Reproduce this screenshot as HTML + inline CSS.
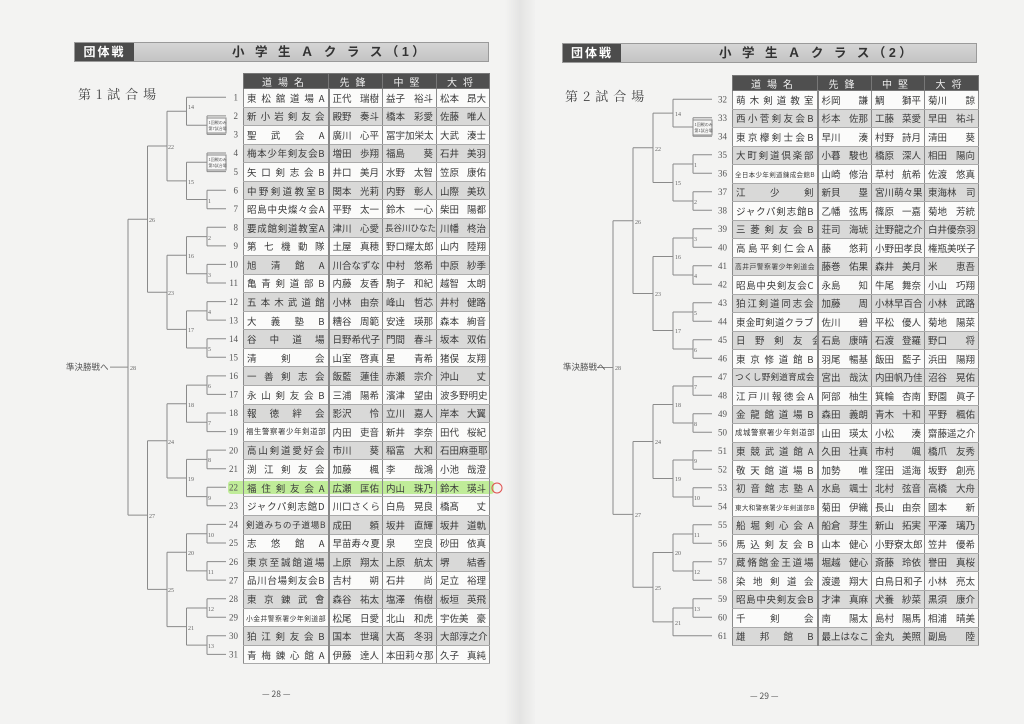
<!DOCTYPE html>
<html><head><meta charset="utf-8">
<style>
*{margin:0;padding:0;box-sizing:border-box}
body{width:1024px;height:724px;background:#f3f3f2;position:relative;overflow:hidden;font-family:"Liberation Serif","Noto Serif CJK SC","Noto Sans CJK JP",serif;color:#333}
.gut{position:absolute;left:505px;top:0;width:30px;height:724px;background:linear-gradient(90deg,#f3f3f2,#e4e4e3 50%,#f1f1f0)}
.bar{position:absolute;height:20px;background:linear-gradient(#d6d6d6,#c4c4c4);border:1px solid #9a9a9a}
.bar .dk{position:absolute;left:0;top:0;bottom:0;background:#4c4c4c;color:#fff;font:bold 12px "Liberation Sans","Noto Sans CJK JP",sans-serif;line-height:18px;text-align:center;letter-spacing:2px}
.bar .tt{position:absolute;top:0;font:bold 12.5px "Liberation Sans","Noto Sans CJK JP",sans-serif;line-height:18px;letter-spacing:3.5px;color:#333}
.venue{position:absolute;font:13px "Noto Serif CJK SC",serif;letter-spacing:5px;color:#444}
table{position:absolute;border-collapse:collapse;table-layout:fixed;font-family:"Noto Sans CJK JP",sans-serif}
th{background:#4f4f4f;color:#eee;font-weight:normal;font-size:10px;letter-spacing:6px;border:1px solid #777;height:15px;line-height:13px}
td{border:1px solid #8a8a8a;border-top-color:#aaa;border-bottom-color:#aaa;font-size:9.5px;padding:0 3px;white-space:nowrap;overflow:hidden;line-height:16px;color:#3a3a3a}
td.j{text-align:justify;text-align-last:justify}
td.sm{font-size:7.4px;padding:0 2px;text-align:justify;text-align-last:justify}
td s{text-decoration:none;float:right}
tr:nth-child(odd) td{background:#d9d9d8}
tr:nth-child(even) td{background:#fbfbfa}
table td:first-child{border-right:2px solid #888}
.L tr td{height:18.57px}
.R tr td{height:18.5px}
svg{position:absolute;left:0;top:0}
</style></head><body>
<div class="gut"></div>

<div class="bar" style="left:74px;top:42px;width:415px"><div class="dk" style="width:59px">団体戦</div><div class="tt" style="left:157px">小 学 生 Ａ ク ラ ス（1）</div></div>
<div class="bar" style="left:562px;top:43px;width:415px"><div class="dk" style="width:58px">団体戦</div><div class="tt" style="left:156px">小 学 生 Ａ ク ラ ス（2）</div></div>
<div class="venue" style="left:78px;top:84px">第1試合場</div>
<div class="venue" style="left:565px;top:86px">第2試合場</div>

<div style="position:absolute;left:228px;top:481px;width:266px;height:13px;background:rgba(150,230,80,.55);border-radius:3px"></div>

<table class="L" style="left:243px;top:73px;width:246px">
<colgroup><col style="width:85px"><col style="width:54px"><col style="width:54px"><col style="width:53px"></colgroup>
<tr><th>道場名</th><th>先鋒</th><th>中堅</th><th>大将</th></tr>
<tr><td class="j">東松舘道場A</td><td>正代<s>瑞樹</s></td><td>益子<s>裕斗</s></td><td>松本<s>昂大</s></td></tr>
<tr><td class="j">新小岩剣友会</td><td>殿野<s>奏斗</s></td><td>橋本<s>彩愛</s></td><td>佐藤<s>唯人</s></td></tr>
<tr><td class="j">聖　武　会　A</td><td>廣川<s>心平</s></td><td class="j">冨宇加栄太</td><td>大武<s>湊士</s></td></tr>
<tr><td class="j">梅本少年剣友会B</td><td>増田<s>歩翔</s></td><td>福島<s>葵</s></td><td>石井<s>美羽</s></td></tr>
<tr><td class="j">矢口剣志会B</td><td>井口<s>美月</s></td><td>水野<s>太智</s></td><td>笠原<s>康佑</s></td></tr>
<tr><td class="j">中野剣道教室B</td><td>関本<s>光莉</s></td><td>内野<s>彰人</s></td><td>山際<s>美玖</s></td></tr>
<tr><td class="j">昭島中央燦々会A</td><td>平野<s>太一</s></td><td>鈴木<s>一心</s></td><td>柴田<s>陽都</s></td></tr>
<tr><td class="j">要成館剣道教室A</td><td>津川<s>心愛</s></td><td class="j" style="font-size:8.5px;padding:0 2px">長谷川ひなた</td><td>川幡<s>柊治</s></td></tr>
<tr><td class="j">第七機動隊</td><td>土屋<s>真穂</s></td><td class="j">野口耀太郎</td><td>山内<s>陸翔</s></td></tr>
<tr><td class="j">旭　清　館　A</td><td class="j">川合なずな</td><td>中村<s>悠希</s></td><td>中原<s>紗季</s></td></tr>
<tr><td class="j">亀青剣道部B</td><td>内藤<s>友香</s></td><td>駒子<s>和紀</s></td><td>越智<s>太朗</s></td></tr>
<tr><td class="j">五本木武道館</td><td>小林<s>由奈</s></td><td>峰山<s>哲芯</s></td><td>井村<s>健路</s></td></tr>
<tr><td class="j">大　義　塾　B</td><td>糟谷<s>周範</s></td><td>安達<s>瑛那</s></td><td>森本<s>絢音</s></td></tr>
<tr><td class="j">谷　中　道　場</td><td class="j">日野希代子</td><td>門間<s>春斗</s></td><td>坂本<s>双佑</s></td></tr>
<tr><td class="j">清　　剣　　会</td><td>山室<s>啓真</s></td><td>星<s>青希</s></td><td>猪俣<s>友翔</s></td></tr>
<tr><td class="j">一善剣志会</td><td>飯藍<s>蓮佳</s></td><td>赤瀬<s>宗介</s></td><td>沖山<s>丈</s></td></tr>
<tr><td class="j">永山剣友会B</td><td>三浦<s>陽希</s></td><td>濱津<s>望由</s></td><td class="j">波多野明史</td></tr>
<tr><td class="j">報　徳　絆　会</td><td>影沢<s>怜</s></td><td>立川<s>嘉人</s></td><td>岸本<s>大翼</s></td></tr>
<tr><td class="sm">福生警察署少年剣道部</td><td>内田<s>吏音</s></td><td>新井<s>李奈</s></td><td>田代<s>桜紀</s></td></tr>
<tr><td class="j">高山剣道愛好会</td><td>市川<s>葵</s></td><td>稲富<s>大和</s></td><td class="j">石田麻亜耶</td></tr>
<tr><td class="j">渕江剣友会</td><td>加藤<s>楓</s></td><td>李<s>哉鴻</s></td><td>小池<s>哉澄</s></td></tr>
<tr><td class="j" style="background:transparent">福住剣友会A</td><td style="background:transparent">広瀬<s>匡佑</s></td><td style="background:transparent">内山<s>珠乃</s></td><td style="background:transparent">鈴木<s>瑛斗</s></td></tr>
<tr><td class="j">ジャクパ剣志館D</td><td class="j">川口さくら</td><td>白鳥<s>晃良</s></td><td>橋髙<s>丈</s></td></tr>
<tr><td class="j" style="font-size:8.6px;padding:0 2px">剣道みちの子道場B</td><td>成田<s>頼</s></td><td>坂井<s>直輝</s></td><td>坂井<s>道軌</s></td></tr>
<tr><td class="j">志　悠　館　A</td><td class="j">早苗寿々夏</td><td>泉<s>空良</s></td><td>砂田<s>依真</s></td></tr>
<tr><td class="j">東京至誠館道場</td><td>上原<s>翔太</s></td><td>上原<s>航太</s></td><td>堺<s>結香</s></td></tr>
<tr><td class="j">品川台場剣友会B</td><td>吉村<s>朔</s></td><td>石井<s>尚</s></td><td>足立<s>裕理</s></td></tr>
<tr><td class="j">東京錬武會</td><td>森谷<s>祐太</s></td><td>塩澤<s>侑樹</s></td><td>板垣<s>英飛</s></td></tr>
<tr><td class="sm" style="font-size:6.8px">小金井警察署少年剣道部</td><td>松尾<s>日愛</s></td><td>北山<s>和虎</s></td><td>宇佐美<s>豪</s></td></tr>
<tr><td class="j">狛江剣友会B</td><td>国本<s>世璃</s></td><td>大髙<s>冬羽</s></td><td class="j">大部淳之介</td></tr>
<tr><td class="j">青梅錬心館A</td><td>伊藤<s>達人</s></td><td class="j">本田莉々那</td><td>久子<s>真純</s></td></tr>
</table>

<table class="R" style="left:732px;top:75px;width:246px">
<colgroup><col style="width:85px"><col style="width:54px"><col style="width:53px"><col style="width:54px"></colgroup>
<tr><th>道場名</th><th>先鋒</th><th>中堅</th><th>大将</th></tr>
<tr><td class="j">萌木剣道教室</td><td>杉岡<s>謙</s></td><td>鯛<s>獅平</s></td><td>菊川<s>諒</s></td></tr>
<tr><td class="j">西小菅剣友会B</td><td>杉本<s>佐那</s></td><td>工藤<s>菜愛</s></td><td>早田<s>祐斗</s></td></tr>
<tr><td class="j">東京欅剣士会B</td><td>早川<s>湊</s></td><td>村野<s>詩月</s></td><td>清田<s>葵</s></td></tr>
<tr><td class="j">大町剣道倶楽部</td><td>小暮<s>駿也</s></td><td>橋原<s>深人</s></td><td>相田<s>陽向</s></td></tr>
<tr><td class="sm" style="font-size:6.5px">全日本少年剣道錬成会館B</td><td>山崎<s>修治</s></td><td>草村<s>航希</s></td><td>佐渡<s>悠真</s></td></tr>
<tr><td class="j">江　　少　　剣</td><td>新貝<s>塁</s></td><td class="j">宮川萌々果</td><td class="j">東海林　司</td></tr>
<tr><td class="j">ジャクパ剣志館B</td><td>乙幡<s>弦馬</s></td><td>篠原<s>一嘉</s></td><td>菊地<s>芳統</s></td></tr>
<tr><td class="j">三菱剣友会B</td><td>荘司<s>海琥</s></td><td class="j">辻野龍之介</td><td class="j">白井優奈羽</td></tr>
<tr><td class="j">高島平剣仁会A</td><td>藤<s>悠莉</s></td><td class="j">小野田孝良</td><td class="j">権瓶美咲子</td></tr>
<tr><td class="sm" style="font-size:6.8px">高井戸警察署少年剣道会</td><td>藤巻<s>佑果</s></td><td>森井<s>美月</s></td><td>米<s>恵吾</s></td></tr>
<tr><td class="j">昭島中央剣友会C</td><td>永島<s>知</s></td><td>牛尾<s>舞奈</s></td><td>小山<s>巧翔</s></td></tr>
<tr><td class="j">狛江剣道同志会</td><td>加藤<s>周</s></td><td class="j">小林早百合</td><td>小林<s>武路</s></td></tr>
<tr><td class="j">東金町剣道クラブ</td><td>佐川<s>碧</s></td><td>平松<s>優人</s></td><td>菊地<s>陽菜</s></td></tr>
<tr><td class="j">日　野　剣　友　会</td><td>石島<s>康晴</s></td><td>石渡<s>登羅</s></td><td>野口<s>将</s></td></tr>
<tr><td class="j">東京修道館B</td><td>羽尾<s>暢基</s></td><td>飯田<s>藍子</s></td><td>浜田<s>陽翔</s></td></tr>
<tr><td class="j" style="font-size:8.6px;padding:0 2px">つくし野剣道育成会</td><td>宮出<s>哉汰</s></td><td class="j">内田帆乃佳</td><td>沼谷<s>晃佑</s></td></tr>
<tr><td class="j">江戸川報徳会A</td><td>阿部<s>柚生</s></td><td>箕輪<s>杏南</s></td><td>野園<s>眞子</s></td></tr>
<tr><td class="j">金龍館道場B</td><td>森田<s>義朗</s></td><td>青木<s>十和</s></td><td>平野<s>楓佑</s></td></tr>
<tr><td class="sm">成城警察署少年剣道部</td><td>山田<s>瑛太</s></td><td>小松<s>湊</s></td><td class="j">齋藤遥之介</td></tr>
<tr><td class="j">東競武道館A</td><td>久田<s>壮真</s></td><td>市村<s>颯</s></td><td>橋爪<s>友秀</s></td></tr>
<tr><td class="j">敬天館道場B</td><td>加勢<s>唯</s></td><td>窪田<s>遥海</s></td><td>坂野<s>創亮</s></td></tr>
<tr><td class="j">初音館志塾A</td><td>水島<s>颯士</s></td><td>北村<s>弦音</s></td><td>高橋<s>大舟</s></td></tr>
<tr><td class="sm" style="font-size:6.5px">東大和警察署少年剣道部B</td><td>菊田<s>伊織</s></td><td>長山<s>由奈</s></td><td>國本<s>新</s></td></tr>
<tr><td class="j">船堀剣心会A</td><td>船倉<s>芽生</s></td><td>新山<s>拓実</s></td><td>平澤<s>璃乃</s></td></tr>
<tr><td class="j">馬込剣友会B</td><td>山本<s>健心</s></td><td class="j">小野寮太郎</td><td>笠井<s>優希</s></td></tr>
<tr><td class="j">蔵脩館金王道場</td><td>堀越<s>健心</s></td><td>斎藤<s>玲依</s></td><td>譽田<s>真桜</s></td></tr>
<tr><td class="j">染地剣道会</td><td>渡邊<s>翔大</s></td><td class="j">白鳥日和子</td><td>小林<s>亮太</s></td></tr>
<tr><td class="j">昭島中央剣友会B</td><td>才津<s>真麻</s></td><td>犬養<s>紗菜</s></td><td>黒須<s>康介</s></td></tr>
<tr><td class="j">千　　剣　　会</td><td>南<s>陽太</s></td><td>島村<s>陽馬</s></td><td>相浦<s>晴美</s></td></tr>
<tr><td class="j">雄　邦　館　B</td><td class="j">最上はなこ</td><td>金丸<s>美照</s></td><td>副島<s>陸</s></td></tr>
</table>

<svg width="1024" height="724" viewBox="0 0 1024 724">
<g fill="none" stroke="#8a8a8a" stroke-width="1">
<path d="M186.5 97.3H226 M207 115.9H226 M207 134.4H226 M207 153H226 M207 171.6H226 M207 190.2H226 M207 208.7H226 M207 227.3H226 M207 245.9H226 M207 264.4H226 M207 283H226 M207 301.6H226 M207 320.1H226 M207 338.7H226 M207 357.3H226 M207 375.9H226 M207 394.4H226 M207 413H226 M207 431.6H226 M207 450.1H226 M207 468.7H226 M207 487.3H226 M207 505.8H226 M207 524.4H226 M207 543H226 M207 561.6H226 M207 580.1H226 M207 598.7H226 M207 617.3H226 M207 635.8H226 M207 654.4H226
M207 115.9V134.4 M207 153V171.6 M207 190.2V208.7 M207 227.3V245.9 M207 264.4V283 M207 301.6V320.1 M207 338.7V357.3 M207 375.9V394.4 M207 413V431.6 M207 450.1V468.7 M207 487.3V505.8 M207 524.4V543 M207 561.6V580.1 M207 598.7V617.3 M207 635.8V654.4
M186.5 125.2H207 M186.5 162.3H207 M186.5 199.5H207 M186.5 236.6H207 M186.5 273.7H207 M186.5 310.9H207 M186.5 348H207 M186.5 385.1H207 M186.5 422.3H207 M186.5 459.4H207 M186.5 496.6H207 M186.5 533.7H207 M186.5 570.9H207 M186.5 608H207 M186.5 645.1H207
M186.5 97.3V125.2 M186.5 162.3V199.5 M186.5 236.6V273.7 M186.5 310.9V348 M186.5 385.1V422.3 M186.5 459.4V496.6 M186.5 533.7V570.9 M186.5 608V645.1
M167 111.2H186.5 M167 180.9H186.5 M167 255.2H186.5 M167 329.4H186.5 M167 403.7H186.5 M167 478H186.5 M167 552.3H186.5 M167 626.6H186.5
M167 111.2V180.9 M167 255.2V329.4 M167 403.7V478 M167 552.3V626.6
M147.5 146H167 M147.5 292.3H167 M147.5 440.8H167 M147.5 589.4H167
M147.5 146V292.3 M147.5 440.8V589.4
M128 219.2H147.5 M128 515.1H147.5 M128 219.2V515.1 M110 367.1H128"/>
<rect x="207" y="118" width="19" height="15" fill="#f7f7f7"/>
<rect x="207" y="155" width="19" height="15" fill="#f7f7f7"/>
<path d="M693 99.25H712 M693 117.75H712 M693 136.25H712 M693 154.75H712 M693 173.25H712 M693 191.75H712 M693 210.25H712 M693 228.75H712 M693 247.25H712 M693 265.75H712 M693 284.25H712 M693 302.75H712 M693 321.25H712 M693 339.75H712 M693 358.25H712 M693 376.75H712 M693 395.25H712 M693 413.75H712 M693 432.25H712 M693 450.75H712 M693 469.25H712 M693 487.75H712 M693 506.25H712 M693 524.75H712 M693 543.25H712 M693 561.75H712 M693 580.25H712 M693 598.75H712 M693 617.25H712
M673 99.25H693 M673 635.75H712
M693 117.75V136.25 M693 154.75V173.25 M693 191.75V210.25 M693 228.75V247.25 M693 265.75V284.25 M693 302.75V321.25 M693 339.75V358.25 M693 376.75V395.25 M693 413.75V432.25 M693 450.75V469.25 M693 487.75V506.25 M693 524.75V543.25 M693 561.75V580.25 M693 598.75V617.25
M673 127H693 M673 164H693 M673 201H693 M673 238H693 M673 275H693 M673 312H693 M673 349H693 M673 386H693 M673 423H693 M673 460H693 M673 497H693 M673 534H693 M673 571H693 M673 608H693
M673 99.25V127 M673 164V201 M673 238V275 M673 312V349 M673 386V423 M673 460V497 M673 534V571 M673 608V635.75
M653 113.1H673 M653 182.5H673 M653 256.5H673 M653 330.5H673 M653 404.5H673 M653 478.5H673 M653 552.5H673 M653 621.9H673
M653 113.1V182.5 M653 256.5V330.5 M653 404.5V478.5 M653 552.5V621.9
M633 147.8H653 M633 293.5H653 M633 441.5H653 M633 587.2H653
M633 147.8V293.5 M633 441.5V587.2
M613 220.7H633 M613 514.4H633 M613 220.7V514.4 M597 367.5H613"/>
<rect x="693" y="120" width="19" height="15" fill="#f5f5f4"/>
</g>
<g font-family="Noto Sans CJK JP,sans-serif" font-size="4" fill="#555">
<text x="208.5" y="124">1回戦のみ</text><text x="208.5" y="130">第7試合場</text>
<text x="208.5" y="161">1回戦のみ</text><text x="208.5" y="167">第5試合場</text>
<text x="694.5" y="126">1回戦のみ</text><text x="694.5" y="132">第1試合場</text>
</g>
<g font-family="Liberation Serif,serif" font-size="6" fill="#666">
<text x="188" y="109">14</text><text x="188" y="184">15</text><text x="208" y="203">1</text><text x="208" y="240">2</text><text x="208" y="277">3</text><text x="168" y="149">22</text><text x="188" y="258">16</text><text x="208" y="314">4</text><text x="208" y="351">5</text><text x="188" y="332">17</text><text x="168" y="295">23</text><text x="149" y="222">26</text><text x="130" y="370">28</text>
<text x="208" y="388">6</text><text x="208" y="425">7</text><text x="188" y="407">18</text><text x="208" y="462">8</text><text x="208" y="500">9</text><text x="188" y="481">19</text><text x="168" y="444">24</text><text x="149" y="518">27</text>
<text x="208" y="537">10</text><text x="208" y="574">11</text><text x="188" y="555">20</text><text x="208" y="611">12</text><text x="208" y="648">13</text><text x="188" y="630">21</text><text x="168" y="592">25</text>
<text x="675" y="116">14</text><text x="694" y="167">1</text><text x="694" y="204">2</text><text x="675" y="185">15</text><text x="655" y="151">22</text><text x="694" y="241">3</text><text x="694" y="278">4</text><text x="675" y="259">16</text><text x="694" y="315">5</text><text x="694" y="352">6</text><text x="675" y="333">17</text><text x="655" y="296">23</text><text x="635" y="224">26</text><text x="615" y="370">28</text>
<text x="694" y="389">7</text><text x="694" y="426">8</text><text x="675" y="407">18</text><text x="694" y="463">9</text><text x="694" y="500">10</text><text x="675" y="481">19</text><text x="655" y="444">24</text><text x="635" y="517">27</text>
<text x="694" y="537">11</text><text x="694" y="574">12</text><text x="675" y="555">20</text><text x="694" y="611">13</text><text x="675" y="625">21</text><text x="655" y="590">25</text>
</g>
<g font-family="Liberation Serif,serif" font-size="9" fill="#555" text-anchor="end">
<text x="238" y="100.5">1</text><text x="238" y="119">2</text><text x="238" y="137.6">3</text><text x="238" y="156.2">4</text><text x="238" y="174.8">5</text><text x="238" y="193.4">6</text><text x="238" y="211.9">7</text><text x="238" y="230.5">8</text><text x="238" y="249.1">9</text><text x="238" y="267.6">10</text><text x="238" y="286.2">11</text><text x="238" y="304.8">12</text><text x="238" y="323.3">13</text><text x="238" y="341.9">14</text><text x="238" y="360.5">15</text><text x="238" y="379.1">16</text><text x="238" y="397.6">17</text><text x="238" y="416.2">18</text><text x="238" y="434.8">19</text><text x="238" y="453.3">20</text><text x="238" y="471.9">21</text><text x="238" y="490.5">22</text><text x="238" y="509">23</text><text x="238" y="527.6">24</text><text x="238" y="546.2">25</text><text x="238" y="564.8">26</text><text x="238" y="583.3">27</text><text x="238" y="601.9">28</text><text x="238" y="620.5">29</text><text x="238" y="639">30</text><text x="238" y="657.6">31</text>
<text x="727" y="102.5">32</text><text x="727" y="121">33</text><text x="727" y="139.5">34</text><text x="727" y="158">35</text><text x="727" y="176.5">36</text><text x="727" y="195">37</text><text x="727" y="213.5">38</text><text x="727" y="232">39</text><text x="727" y="250.5">40</text><text x="727" y="269">41</text><text x="727" y="287.5">42</text><text x="727" y="306">43</text><text x="727" y="324.5">44</text><text x="727" y="343">45</text><text x="727" y="361.5">46</text><text x="727" y="380">47</text><text x="727" y="398.5">48</text><text x="727" y="417">49</text><text x="727" y="435.5">50</text><text x="727" y="454">51</text><text x="727" y="472.5">52</text><text x="727" y="491">53</text><text x="727" y="509.5">54</text><text x="727" y="528">55</text><text x="727" y="546.5">56</text><text x="727" y="565">57</text><text x="727" y="583.5">58</text><text x="727" y="602">59</text><text x="727" y="620.5">60</text><text x="727" y="639">61</text>
</g>
<g font-family="Noto Sans CJK JP,sans-serif" font-size="8.5" fill="#555">
<text x="66" y="370">準決勝戦へ</text>
<text x="563" y="370">準決勝戦へ</text>
<text x="262" y="697">— 28 —</text>
<text x="750" y="699">— 29 —</text>
</g>
<circle cx="497" cy="488" r="5" fill="none" stroke="#e05050" stroke-width="1"/>
</svg>
</body></html>
